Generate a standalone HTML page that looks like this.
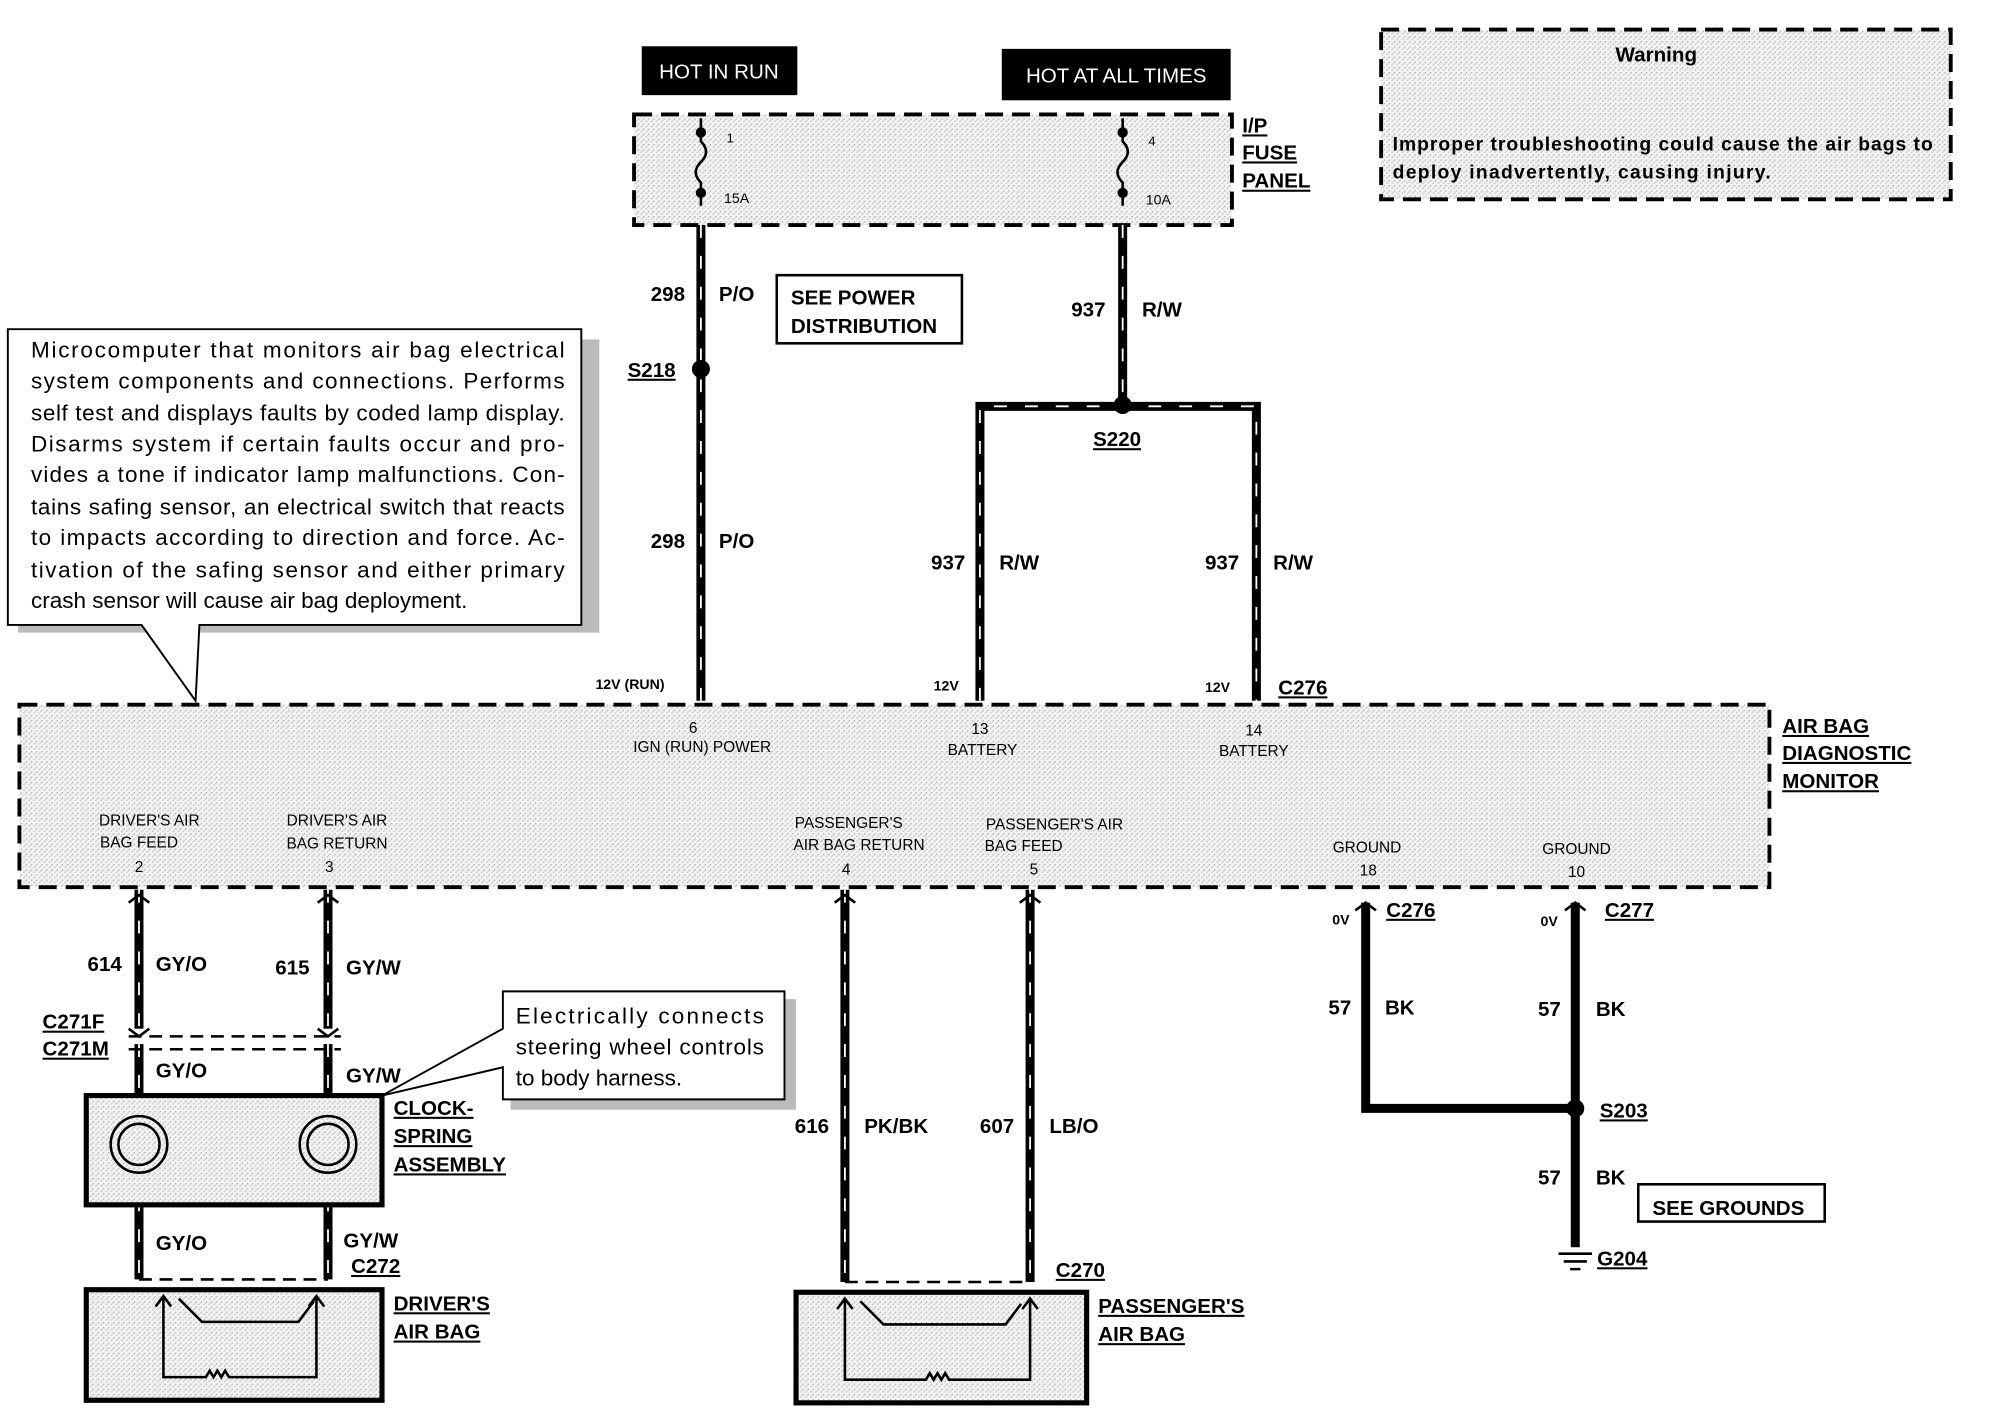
<!DOCTYPE html>
<html><head><meta charset="utf-8"><style>
html,body{margin:0;padding:0;background:#fff}
svg{display:block}
text{font-family:"Liberation Sans",sans-serif;fill:#000}
.b{font-weight:bold}
</style></head><body>
<svg width="2010" height="1408" viewBox="0 0 1563 1095" xmlns="http://www.w3.org/2000/svg">
<defs>
<pattern id="st" width="4" height="4" patternUnits="userSpaceOnUse"><rect width="4" height="4" fill="#f3f3f3"/><rect width="1" height="1" fill="#aaa"/><rect x="2" y="2" width="1" height="1" fill="#bbb"/><rect x="3" y="1" width="1" height="1" fill="#ccc"/></pattern>
</defs>
<style>
.w{stroke:#000;stroke-width:7;fill:none}
.wd{stroke:#fff;stroke-width:1.4;stroke-dasharray:10 14;fill:none}
.dash{stroke:#000;stroke-width:3;stroke-dasharray:14 7;fill:none}
.t{stroke:#000;stroke-width:2;fill:none}
</style>
<rect x="499" y="36" width="121" height="38" fill="#000"/>
<text x="559" y="61" font-size="16" text-anchor="middle" style="fill:#fff">HOT IN RUN</text>
<rect x="779" y="38" width="178" height="40" fill="#000"/>
<text x="868" y="64" font-size="16" text-anchor="middle" style="fill:#fff">HOT AT ALL TIMES</text>
<rect x="493" y="89" width="465" height="86" fill="url(#st)"/>
<rect x="493" y="89" width="465" height="86" class="dash"/>
<text x="966" y="103" font-size="16" class="b" text-decoration="underline">I/P</text>
<text x="966" y="124" font-size="16" class="b" text-decoration="underline">FUSE</text>
<text x="966" y="146" font-size="16" class="b" text-decoration="underline">PANEL</text>
<path d="M545 92 V110 q8 8 0 16 q-8 8 0 16 V160" class="t" stroke-width="2.5"/>
<circle cx="545" cy="103" r="4"/><circle cx="545" cy="150" r="4"/>
<path d="M873 92 V110 q8 8 0 16 q-8 8 0 16 V160" class="t" stroke-width="2.5"/>
<circle cx="873" cy="103" r="4"/><circle cx="873" cy="150" r="4"/>
<text x="565" y="111" font-size="10">1</text><text x="563" y="158" font-size="11">15A</text>
<text x="893" y="113" font-size="10">4</text><text x="891" y="159" font-size="11">10A</text>
<rect x="1074" y="23" width="443" height="132" fill="url(#st)"/>
<rect x="1074" y="23" width="443" height="132" class="dash"/>
<text x="1288" y="48" font-size="16" class="b" text-anchor="middle">Warning</text>
<text x="1083" y="117" font-size="15" class="b" textLength="420">Improper troubleshooting could cause the air bags to</text>
<text x="1083" y="139" font-size="15" class="b" textLength="294">deploy inadvertently, causing injury.</text>
<path d="M545 175 V545 M873 175 V315 M762 545 V316 H977 V545" class="w"/>
<path d="M545 175 V545 M873 175 V315 M762 545 V316 H977 V545" class="wd"/>
<circle cx="545" cy="287" r="7"/><circle cx="873" cy="315" r="7"/>
<text x="506" y="234" font-size="16" class="b">298</text><text x="559" y="234" font-size="16" class="b">P/O</text>
<text x="488" y="293" font-size="16" class="b" text-decoration="underline">S218</text>
<text x="506" y="426" font-size="16" class="b">298</text><text x="559" y="426" font-size="16" class="b">P/O</text>
<rect x="604" y="214" width="144" height="53" fill="#fff" stroke="#000" stroke-width="2"/>
<text x="615" y="237" font-size="16" class="b">SEE POWER</text>
<text x="615" y="259" font-size="16" class="b">DISTRIBUTION</text>
<text x="833" y="246" font-size="16" class="b">937</text><text x="888" y="246" font-size="16" class="b">R/W</text>
<text x="850" y="347" font-size="16" class="b" text-decoration="underline">S220</text>
<text x="724" y="443" font-size="16" class="b">937</text><text x="777" y="443" font-size="16" class="b">R/W</text>
<text x="937" y="443" font-size="16" class="b">937</text><text x="990" y="443" font-size="16" class="b">R/W</text>
<text x="463" y="536" font-size="11" class="b">12V (RUN)</text>
<text x="726" y="537" font-size="11" class="b">12V</text>
<text x="937" y="538" font-size="11" class="b">12V</text>
<text x="994" y="540" font-size="16" class="b" text-decoration="underline">C276</text>
<rect x="14" y="264" width="452" height="228" fill="#bbb"/>
<path d="M6 256 H452 V486 H155 L152 545 L110 486 H6 Z" fill="#fff" stroke="#000" stroke-width="1.5"/>
<g font-size="17.5">
<text x="24" y="278" textLength="415">Microcomputer that monitors air bag electrical</text>
<text x="24" y="302" textLength="415">system components and connections. Performs</text>
<text x="24" y="327" textLength="415">self test and displays faults by coded lamp display.</text>
<text x="24" y="351" textLength="415">Disarms system if certain faults occur and pro-</text>
<text x="24" y="375" textLength="415">vides a tone if indicator lamp malfunctions. Con-</text>
<text x="24" y="400" textLength="415">tains safing sensor, an electrical switch that reacts</text>
<text x="24" y="424" textLength="415">to impacts according to direction and force. Ac-</text>
<text x="24" y="449" textLength="415">tivation of the safing sensor and either primary</text>
<text x="24" y="473">crash sensor will cause air bag deployment.</text>
</g>
<rect x="15" y="548" width="1361" height="142" fill="url(#st)"/>
<rect x="15" y="548" width="1361" height="142" class="dash"/>
<text x="1386" y="570" font-size="16" class="b" text-decoration="underline">AIR BAG</text>
<text x="1386" y="591" font-size="16" class="b" text-decoration="underline">DIAGNOSTIC</text>
<text x="1386" y="613" font-size="16" class="b" text-decoration="underline">MONITOR</text>
<g font-size="12" text-anchor="middle">
<text x="539" y="570">6</text><text x="546" y="585">IGN (RUN) POWER</text>
<text x="762" y="571">13</text><text x="764" y="587">BATTERY</text>
<text x="975" y="572">14</text><text x="975" y="588">BATTERY</text>
<text x="116" y="642">DRIVER'S AIR</text><text x="108" y="659">BAG FEED</text><text x="108" y="678">2</text>
<text x="262" y="642">DRIVER'S AIR</text><text x="262" y="660">BAG RETURN</text><text x="256" y="678">3</text>
<text x="660" y="644">PASSENGER'S</text><text x="668" y="661">AIR BAG RETURN</text><text x="658" y="680">4</text>
<text x="820" y="645">PASSENGER'S AIR</text><text x="796" y="662">BAG FEED</text><text x="804" y="680">5</text>
<text x="1063" y="663">GROUND</text><text x="1064" y="681">18</text>
<text x="1226" y="664">GROUND</text><text x="1226" y="682">10</text>
</g>
<path d="M108 692 V995 M255 692 V995 M657 692 V997 M801 692 V997" class="w"/>
<path d="M108 692 V995 M255 692 V995 M657 692 V997 M801 692 V997" class="wd"/>
<path d="M1062 702 V862 H1225 M1225 702 V970" class="w"/>
<circle cx="1225" cy="862" r="7"/>
<rect x="100" y="800" width="165" height="12" fill="#fff"/>
<path d="M100 806 H265 M100 816 H265" stroke="#000" stroke-width="2" stroke-dasharray="10 6"/>
<path d="M100 702 l8 -6 l8 6 M247 702 l8 -6 l8 6 M649 702 l8 -6 l8 6 M793 702 l8 -6 l8 6 M1054 708 l8 -6 l8 6 M1217 708 l8 -6 l8 6 M100 800 l8 6 l8 -6 M247 800 l8 6 l8 -6" class="t" stroke-width="3"/>
<text x="1036" y="719" font-size="11" class="b">0V</text><text x="1078" y="713" font-size="16" class="b" text-decoration="underline">C276</text>
<text x="1198" y="720" font-size="11" class="b">0V</text><text x="1248" y="713" font-size="16" class="b" text-decoration="underline">C277</text>
<text x="68" y="755" font-size="16" class="b">614</text><text x="121" y="755" font-size="16" class="b">GY/O</text>
<text x="214" y="758" font-size="16" class="b">615</text><text x="269" y="758" font-size="16" class="b">GY/W</text>
<text x="33" y="800" font-size="16" class="b" text-decoration="underline">C271F</text>
<text x="33" y="821" font-size="16" class="b" text-decoration="underline">C271M</text>
<text x="121" y="838" font-size="16" class="b">GY/O</text><text x="269" y="842" font-size="16" class="b">GY/W</text>
<text x="1033" y="789" font-size="16" class="b">57</text><text x="1077" y="789" font-size="16" class="b">BK</text>
<text x="1196" y="790" font-size="16" class="b">57</text><text x="1241" y="790" font-size="16" class="b">BK</text>
<text x="1244" y="869" font-size="16" class="b" text-decoration="underline">S203</text>
<text x="1196" y="921" font-size="16" class="b">57</text><text x="1241" y="921" font-size="16" class="b">BK</text>
<rect x="1274" y="921" width="145" height="29" fill="#fff" stroke="#000" stroke-width="2"/>
<text x="1285" y="945" font-size="16" class="b">SEE GROUNDS</text>
<path d="M1212 975 H1238 M1216 981 H1234 M1221 987 H1229" class="t"/>
<text x="1242" y="984" font-size="16" class="b" text-decoration="underline">G204</text>
<text x="618" y="881" font-size="16" class="b">616</text><text x="672" y="881" font-size="16" class="b">PK/BK</text>
<text x="762" y="881" font-size="16" class="b">607</text><text x="816" y="881" font-size="16" class="b">LB/O</text>
<text x="821" y="993" font-size="16" class="b" text-decoration="underline">C270</text>
<rect x="67" y="852" width="230" height="85" fill="url(#st)" stroke="#000" stroke-width="4"/>
<circle cx="108" cy="890" r="22" class="t"/><circle cx="108" cy="890" r="16" class="t"/>
<circle cx="255" cy="890" r="22" class="t"/><circle cx="255" cy="890" r="16" class="t"/>
<text x="306" y="867" font-size="16" class="b" text-decoration="underline">CLOCK-</text>
<text x="306" y="889" font-size="16" class="b" text-decoration="underline">SPRING</text>
<text x="306" y="911" font-size="16" class="b" text-decoration="underline">ASSEMBLY</text>
<text x="121" y="972" font-size="16" class="b">GY/O</text>
<text x="267" y="970" font-size="16" class="b">GY/W</text>
<text x="273" y="990" font-size="16" class="b" text-decoration="underline">C272</text>
<path d="M108 995 H255" stroke="#000" stroke-width="2" stroke-dasharray="10 6"/>
<path d="M657 997 H801" stroke="#000" stroke-width="2" stroke-dasharray="10 6"/>
<rect x="397" y="777" width="222" height="86" fill="#bbb"/>
<path d="M391 771 H610 V855 H391 V830 L297 852 L391 800 Z" fill="#fff" stroke="#000" stroke-width="1.5"/>
<text x="401" y="796" font-size="17.5" textLength="193">Electrically connects</text>
<text x="401" y="820" font-size="17.5" textLength="193">steering wheel controls</text>
<text x="401" y="844" font-size="17.5">to body harness.</text>
<rect x="67" y="1003" width="230" height="86" fill="url(#st)" stroke="#000" stroke-width="4"/>
<path d="M127 1008 V1071 H160 l3 -5 l3 5 l3 -5 l3 5 l3 -5 l3 5 H246 V1008 M121 1016 l6 -8 l6 8 M240 1016 l6 -8 l6 8 M139 1010 l18 18 H232 l12 -16" class="t"/>
<text x="306" y="1019" font-size="16" class="b" text-decoration="underline">DRIVER'S</text>
<text x="306" y="1041" font-size="16" class="b" text-decoration="underline">AIR BAG</text>
<rect x="619" y="1005" width="226" height="86" fill="url(#st)" stroke="#000" stroke-width="4"/>
<path d="M657 1010 V1073 H720 l3 -5 l3 5 l3 -5 l3 5 l3 -5 l3 5 H801 V1010 M651 1018 l6 -8 l6 8 M795 1018 l6 -8 l6 8 M669 1012 l18 18 H782 l12 -16" class="t"/>
<text x="854" y="1021" font-size="16" class="b" text-decoration="underline">PASSENGER'S</text>
<text x="854" y="1043" font-size="16" class="b" text-decoration="underline">AIR BAG</text>
</svg>
</body></html>
